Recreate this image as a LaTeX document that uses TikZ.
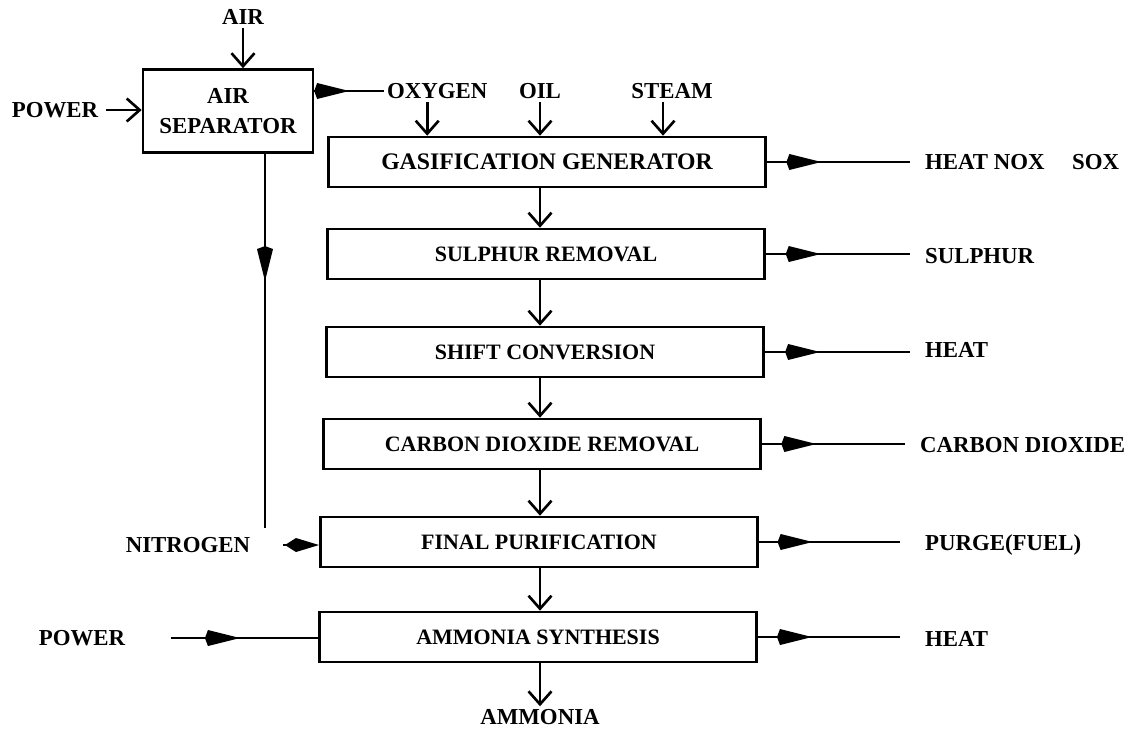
\documentclass[tikz,border=0pt]{standalone}
\usepackage{fontspec}
\setmainfont{Liberation Serif}
\usetikzlibrary{arrows.meta,decorations.markings}

\begin{document}
\begin{tikzpicture}[x=0.02cm,y=-0.02cm,line width=1.5pt,
  unit/.style={draw,minimum width=8.75cm,minimum height=1cm,inner sep=0pt,
    font=\fontsize{12.5}{14}\selectfont\bfseries},
  tag/.style={inner sep=1pt,font=\fontsize{13}{15}\selectfont\bfseries},
  feed/.style={-{Straight Barb[length=2.6mm,width=4.6mm]}},
  midtip/.style={postaction={decorate},decoration={markings,
    mark=at position #1 with {\arrow{Kite[length=7mm,width=3.2mm,inset=0.6mm]}}}}]
  \useasboundingbox (0,0) rectangle (1141,728);
  \coordinate (spine) at (540,0);
  \coordinate (outx) at (910,0);
  % air separation
  \node[draw,minimum width=3.4cm,minimum height=1.66cm,inner sep=0pt,align=center,
    font=\fontsize{13}{17}\selectfont\bfseries] (airsep) at (228,111) {AIR\\SEPARATOR};
  \node[tag] (air) at (243,17) {AIR};
  \node[tag] (powerA) at (55,110) {POWER};
  \node[tag,anchor=west] (oxygen) at (384,91) {OXYGEN};
  \node[tag] (oil) at (540,91) {OIL};
  \node[tag] (steam) at (672,91) {STEAM};
  % process train
  \node[unit,font=\fontsize{13.5}{15}\selectfont\bfseries] (gasgen) at (547,162) {GASIFICATION GENERATOR};
  \node[unit] (sulrem) at (546,254) {SULPHUR REMOVAL};
  \node[unit] (shift) at (545,352) {SHIFT CONVERSION};
  \node[unit] (coremov) at (542,444) {CARBON DIOXIDE REMOVAL};
  \node[unit] (finpur) at (539,542) {FINAL PURIFICATION};
  \node[unit] (ammsyn) at (538,637) {AMMONIA SYNTHESIS};
  \node[tag] (ammonia) at (540,717) {AMMONIA};
  % side streams
  \node[tag,anchor=west] (hnox) at (922,162) {HEAT NOX\hspace{0.55cm}SOX};
  \node[tag,anchor=west] (sulphur) at (922,256) {SULPHUR};
  \node[tag,anchor=west] (heatA) at (922,350) {HEAT};
  \node[tag,anchor=west] (cdiox) at (917,445) {CARBON DIOXIDE};
  \node[tag,anchor=west] (purge) at (922,545) {PURGE(FUEL)};
  \node[tag,anchor=west] (heatB) at (922,639) {HEAT};
  \node[tag] (nitrogen) at (188,545) {NITROGEN};
  \node[tag] (powerB) at (82,638) {POWER};
  \coordinate (nend) at (265,528);

  \draw[feed] (air.south) -- (air.south |- airsep.north);
  \draw[feed] ([xshift=0.1cm]powerA.east) -- (powerA.east -| airsep.west);
  \draw[midtip=0.5] (airsep.east |- oxygen.west) -- (oxygen.west);
  \draw[feed] ([xshift=-0.2cm]oxygen.south) -- ([xshift=-0.2cm]oxygen.south |- gasgen.north);
  \draw[feed] (oil.south) -- (oil.south |- gasgen.north);
  \draw[feed] ([xshift=-0.18cm]steam.south) -- ([xshift=-0.18cm]steam.south |- gasgen.north);
  \draw[feed] (gasgen.south -| spine) -- (sulrem.north -| spine);
  \draw[feed] (sulrem.south -| spine) -- (shift.north -| spine);
  \draw[feed] (shift.south -| spine) -- (coremov.north -| spine);
  \draw[feed] (coremov.south -| spine) -- (finpur.north -| spine);
  \draw[feed] (finpur.south -| spine) -- (ammsyn.north -| spine);
  \draw[feed] (ammsyn.south -| spine) -- (ammonia.north -| spine);
  \draw[midtip=0.38] (gasgen.east) -- (gasgen.east -| outx);
  \draw[midtip=0.38] (sulrem.east) -- (sulrem.east -| outx);
  \draw[midtip=0.38] (shift.east) -- (shift.east -| outx);
  \draw[midtip=0.38] (coremov.east) -- ([xshift=-0.1cm]coremov.east -| outx);
  \draw[midtip=0.38] (finpur.east) -- ([xshift=-0.2cm]finpur.east -| outx);
  \draw[midtip=0.38] (ammsyn.east) -- ([xshift=-0.2cm]ammsyn.east -| outx);
  \draw[midtip=0.34] (airsep.south -| nend) -- (nend);
  \draw[-{Kite[length=6.8mm,width=2.8mm,inset=2.2mm]}] ([xshift=0.6cm]nitrogen.east) -- (nitrogen.east -| finpur.west);
  \draw[midtip=0.47] ([xshift=0.85cm]powerB.east) -- (powerB.east -| ammsyn.west);
\end{tikzpicture}
\end{document}
